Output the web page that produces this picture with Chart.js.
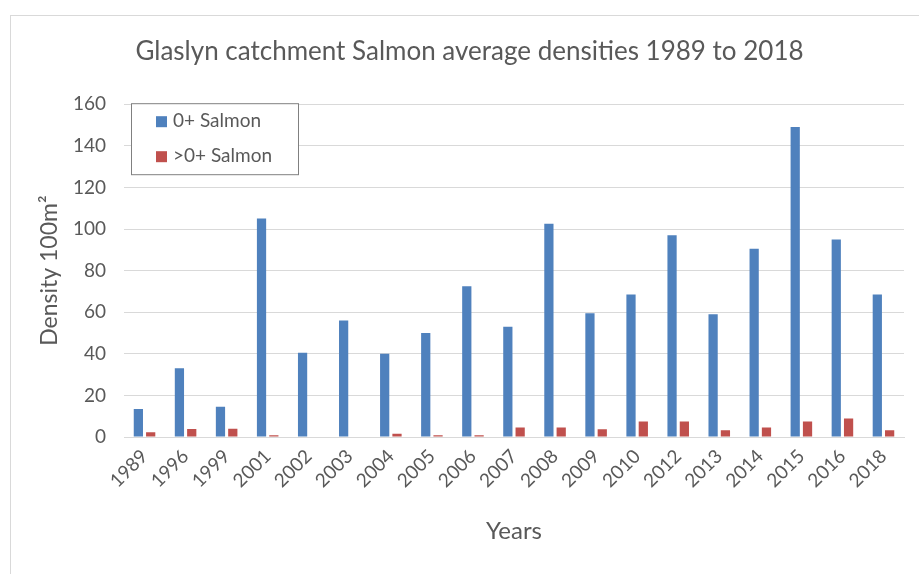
<!DOCTYPE html>
<html lang="en">
<head>
  <meta charset="UTF-8">
  <title>Glaslyn catchment Salmon average densities</title>
  <style>
body {
  margin: 0;
  background: #fff;
  overflow: hidden;
}

.frame {
  position: absolute;
  left: 10px;
  top: 15px;
  width: 960px;
  height: 600px;
  border: 1px solid #d9d9d9;
}

.chart-container {
  position: relative;
  width: 909px;
  height: 558px;
}
  </style>
  <script src="https://cdn.jsdelivr.net/npm/chart.js"></script>
</head>
<body>

  <div class="frame">
    <div class="chart-container">
      <canvas id="salmonChart"></canvas>
    </div>
  </div>

  <script>
    const years = ['1989', '1996', '1999', '2001', '2002', '2003', '2004', '2005', '2006', '2007',
                   '2008', '2009', '2010', '2012', '2013', '2014', '2015', '2016', '2018'];
    const fry = [13.5, 33, 14.5, 105, 40.5, 56, 40, 50, 72.5, 53,
                 102.5, 59.5, 68.5, 97, 59, 90.5, 149, 95, 68.5];
    const parr = [2.3, 3.8, 4, 0.8, 0, 0, 1.6, 0.8, 0.8, 4.6,
                  4.6, 3.7, 7.5, 7.5, 3.2, 4.6, 7.5, 8.9, 3.2];
    const seriesNames = ['0+ Salmon', '>0+ Salmon'];
    const seriesColors = ['#4f81bd', '#c0504d'];

    const FONT = 'Lato, "Open Sans", sans-serif';
    const TEXT = '#595959';

    // legend box drawn inside the plot area, top-left like the excel one
    const boxLegend = {
      id: 'boxLegend',
      afterDraw(chart) {
        const c = chart.ctx;
        const a = chart.chartArea;
        const x = a.left + 7, y = a.top - 1, w = 167, h = 71;
        c.save();
        c.fillStyle = '#fff';
        c.fillRect(x, y, w, h);
        c.strokeStyle = '#808080';
        c.lineWidth = 1;
        c.strokeRect(x + 0.5, y + 0.5, w, h);
        c.font = '19px ' + FONT;
        c.textBaseline = 'middle';
        chart.data.datasets.forEach((ds, i) => {
          const cy = y + 18 + i * 35;
          c.fillStyle = ds.backgroundColor;
          c.fillRect(x + 25, cy - 5, 11, 11);
          c.fillStyle = TEXT;
          c.fillText(ds.label, x + 42, cy);
        });
        c.restore();
      }
    };

    const ctx = document.getElementById('salmonChart').getContext('2d');
    const salmonChart = new Chart(ctx, {
      type: 'bar',
      data: {
        labels: years,
        datasets: [
          { label: seriesNames[0], data: fry, backgroundColor: seriesColors[0] },
          { label: seriesNames[1], data: parr, backgroundColor: seriesColors[1] }
        ]
      },
      options: {
        responsive: true,
        maintainAspectRatio: false,
        animation: false,
        categoryPercentage: 0.6,
        barPercentage: 0.75,
        layout: { padding: { left: 24, right: 16, top: 0, bottom: 10 } },
        plugins: {
          legend: { display: false },
          tooltip: { enabled: false },
          title: {
            display: true,
            text: 'Glaslyn catchment Salmon average densities 1989 to 2018',
            color: TEXT,
            font: { family: FONT, size: 26, weight: 'normal' },
            padding: { top: 20, bottom: 37 }
          }
        },
        scales: {
          x: {
            grid: { display: false, drawTicks: false },
            border: { color: '#d9d9d9' },
            ticks: {
              color: TEXT,
              font: { family: FONT, size: 19 },
              minRotation: 45,
              maxRotation: 45,
              padding: 8
            },
            title: {
              display: true,
              text: 'Years',
              color: TEXT,
              font: { family: FONT, size: 24 },
              padding: { top: 4, bottom: 18 }
            },
            afterFit(scale) { scale.height = 127; }
          },
          y: {
            min: 0,
            max: 160,
            ticks: {
              stepSize: 20,
              color: TEXT,
              font: { family: FONT, size: 19 },
              padding: 18
            },
            grid: { color: '#d9d9d9', drawTicks: false },
            border: { display: false },
            title: {
              display: true,
              text: 'Density 100m\u00b2',
              color: TEXT,
              font: { family: FONT, size: 23 },
              padding: { top: 1, bottom: 0 }
            },
            afterFit(scale) { scale.width = 89; }
          }
        }
      },
      plugins: [boxLegend]
    });
  </script>

</body>
</html>
